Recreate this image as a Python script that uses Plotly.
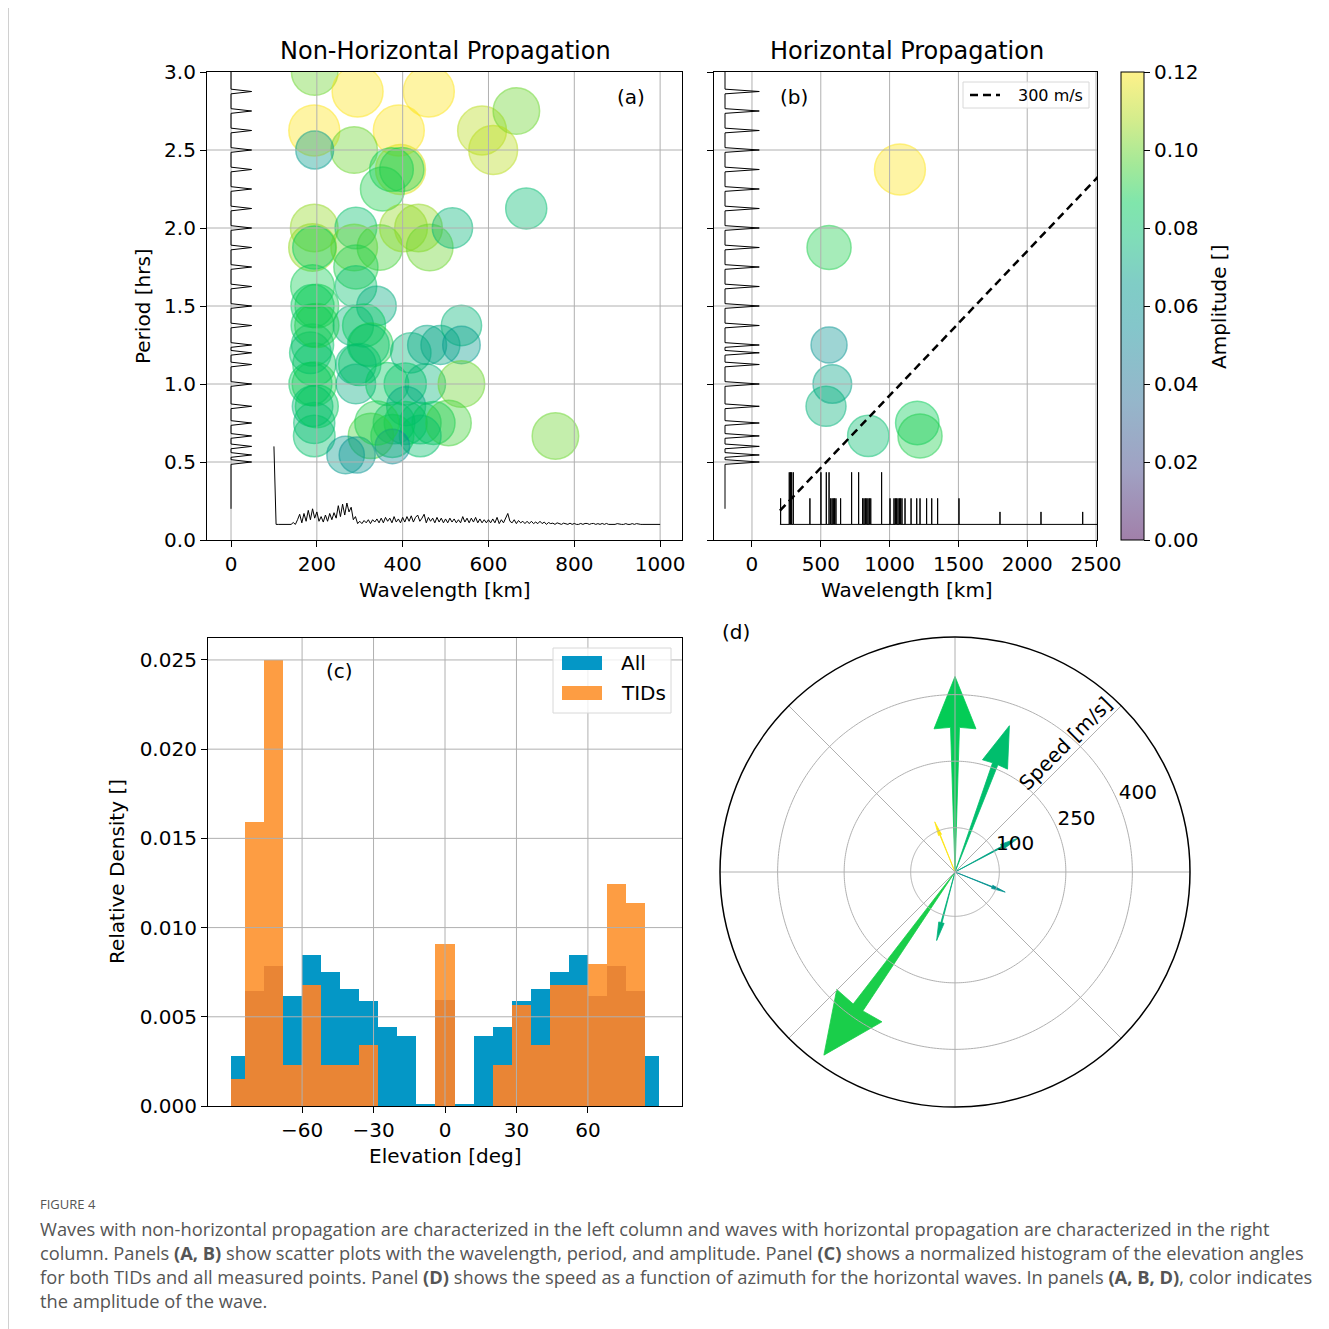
import numpy as np
import plotly.graph_objects as go
from plotly.colors import sample_colorscale

# The page body has an 8px margin: the figure is 1321 px and positions are
# given in screen pixels, converted here to paper fractions.
OFF = 8
W = H = 1321


def px(x):
    return (x - OFF) / W


def py(y):
    return 1 - (y - OFF) / H


# ---------------- DATA ----------------
# Panel (a): non-horizontal waves
nh_wavelength = [195, 295, 461, 194, 391, 585, 665, 611, 287, 195, 395, 374, 398, 353, 688,
                 194, 190, 194, 291, 287, 347, 402, 437, 463, 516, 291, 291, 339, 190, 190,
                 190, 190, 194, 194, 190, 194, 194, 285, 310, 326, 291, 291, 364, 419, 457,
                 488, 537, 537, 406, 453, 537, 408, 380, 407, 441, 472, 507, 441, 376, 326,
                 376, 267, 294, 756, 200, 185, 200, 300, 340, 320, 185, 200]
nh_period = [3.0, 2.875, 2.875, 2.625, 2.625, 2.625, 2.75, 2.5, 2.5, 2.5, 2.375, 2.375, 2.375, 2.25, 2.125,
             2.0, 1.875, 1.875, 2.0, 1.875, 1.875, 2.0, 2.0, 1.875, 2.0, 1.75, 1.625, 1.5, 1.625, 1.5,
             1.375, 1.25, 1.125, 1.0, 0.857, 0.75, 0.667, 1.375, 1.375, 1.25, 1.125, 1.0, 1.0, 1.2, 1.25,
             1.25, 1.375, 1.25, 1.0, 1.0, 1.0, 0.857, 0.75, 0.75, 0.75, 0.75, 0.75, 0.667, 0.667, 0.667,
             0.6, 0.545, 0.545, 0.667, 1.5, 1.2, 0.857, 1.125, 0.75, 1.25, 1.0, 1.375]
nh_amplitude = [0.10, 0.12, 0.12, 0.12, 0.12, 0.11, 0.10, 0.11, 0.10, 0.066, 0.115, 0.088, 0.09, 0.09, 0.078,
                0.105, 0.105, 0.086, 0.08, 0.10, 0.095, 0.105, 0.105, 0.10, 0.075, 0.09, 0.08, 0.072, 0.088, 0.085,
                0.085, 0.082, 0.085, 0.09, 0.076, 0.078, 0.08, 0.075, 0.085, 0.09, 0.075, 0.072, 0.085, 0.075, 0.07,
                0.07, 0.075, 0.065, 0.082, 0.075, 0.10, 0.07, 0.08, 0.085, 0.08, 0.085, 0.095, 0.08, 0.085, 0.095,
                0.055, 0.065, 0.06, 0.10, 0.088, 0.08, 0.085, 0.082, 0.09, 0.08, 0.085, 0.09]

# Panel (b): horizontal waves
h_wavelength = [1075, 560, 560, 584, 538, 845, 1201, 1221]
h_period = [2.375, 1.875, 1.25, 1.0, 0.857, 0.667, 0.75, 0.667]
h_amplitude = [0.12, 0.09, 0.06, 0.069, 0.074, 0.079, 0.087, 0.09]

ref_speed = 300  # m/s
ref_wavelength = [203, 2700]

# Marginal histogram of period (shared by both panels)
period_levels = [0.5, 0.545, 0.6, 0.667, 0.75, 0.857, 1.0, 1.125, 1.2, 1.25, 1.375, 1.5,
                 1.625, 1.75, 1.875, 2.0, 2.125, 2.25, 2.375, 2.5, 2.625, 2.75, 2.875]
period_counts = [1, 1, 1, 1, 1, 1, 1, 1, 1, 1, 1, 1, 1, 1, 1, 1, 1, 1, 1, 1, 1, 1, 1]

# Marginal histogram of wavelength, panel (a) (5 km bins, heights in hrs-units)
wl_marg_a_km = list(range(100, 1005, 5))
wl_marg_a_h = [0.50, 0, 0, 0, 0, 0, 0, 0, 0, 0.012,
               0, 0.03, 0.065, 0.01, 0.07, 0.02, 0.09, 0.03, 0.10, 0.04,
               0.08, 0.02, 0.05, 0.015, 0.06, 0.02, 0.07, 0.03, 0.075, 0.04,
               0.12, 0.05, 0.13, 0.06, 0.137, 0.08, 0.11, 0.03, 0.05, 0.005,
               0.02, 0.005, 0.025, 0.01, 0.03, 0.005, 0.03, 0.015, 0.035, 0.01,
               0.04, 0.01, 0.045, 0.02, 0.04, 0.01, 0.05, 0.015, 0.035, 0.01,
               0.045, 0.015, 0.05, 0.02, 0.055, 0.015, 0.045, 0.06, 0.02, 0.04,
               0.065, 0.01, 0.045, 0.02, 0.04, 0.01, 0.045, 0.015, 0.04, 0.01,
               0.035, 0.01, 0.04, 0.015, 0.035, 0.01, 0.03, 0.01, 0.05, 0.015,
               0.04, 0.01, 0.04, 0.015, 0.045, 0.01, 0.035, 0.01, 0.03, 0.01,
               0.03, 0.01, 0.035, 0.01, 0.045, 0.005, 0.03, 0.01, 0.035, 0.07,
               0.02, 0.01, 0.03, 0.005, 0.025, 0.01, 0.02, 0.005, 0.02, 0.005,
               0.02, 0.005, 0.015, 0.005, 0.02, 0.005, 0.015, 0, 0.012, 0.005,
               0.008, 0, 0.01, 0.006, 0, 0.008, 0.005, 0, 0.008, 0,
               0.006, 0, 0, 0.006, 0, 0.006, 0.006, 0, 0.005, 0.006,
               0, 0.005, 0, 0.006, 0, 0.006, 0, 0, 0, 0,
               0.005, 0, 0, 0, 0.005, 0, 0, 0.005, 0, 0.005,
               0, 0, 0, 0, 0, 0, 0, 0, 0, 0,
               0]

# Marginal of wavelength, panel (b) (sticks, heights in hrs-units)
stick_wl_b = [208, 271, 280, 288, 300, 421, 501, 540, 560, 572, 582, 591, 600, 610, 644,
              724, 775, 804, 814, 824, 834, 843, 853, 863, 942, 1003, 1032, 1042, 1051, 1061,
              1071, 1080, 1090, 1112, 1156, 1197, 1221, 1269, 1306, 1349, 1504, 1802, 2100, 2403]
stick_h_b = [0.167, 0.334, 0.334, 0.334, 0.334, 0.167, 0.334, 0.334, 0.334, 0.167, 0.167, 0.167, 0.167, 0.167, 0.167,
             0.334, 0.334, 0.167, 0.167, 0.167, 0.167, 0.167, 0.167, 0.167, 0.334, 0.167, 0.167, 0.167, 0.167, 0.167,
             0.167, 0.167, 0.167, 0.167, 0.167, 0.167, 0.167, 0.167, 0.167, 0.167, 0.167, 0.08, 0.08, 0.08]

# Panel (c): elevation histogram
elev_edges = [-90, -84, -76, -68, -60, -52, -44, -36, -28, -20, -12, -4,
              4, 12, 20, 28, 36, 44, 52, 60, 68, 76, 84, 90]
all_density = [0.0028, 0.00646, 0.00787, 0.00618, 0.00845, 0.00752, 0.00657, 0.00588, 0.00442, 0.00392, 0.0001, 0.00595,
               0.0001, 0.00392, 0.00442, 0.00588, 0.00657, 0.00752, 0.00845, 0.00618, 0.00787, 0.00646, 0.0028]
tid_density = [0.00149, 0.0159, 0.025, 0.00228, 0.00679, 0.00228, 0.00228, 0.00343, 0, 0, 0, 0.0091,
               0, 0, 0.00228, 0.00567, 0.00343, 0.00679, 0.00679, 0.00797, 0.01246, 0.01138, 0]
elev_ticks = [-60, -30, 0, 30, 60]
elev_ticktext = ['\u221260', '\u221230', '0', '30', '60']

# Panel (d): speed vs azimuth
arrow_az = [0, 20.4, 215.6, 338, 61.8, 111.8, 195]
arrow_speed = [441, 352, 508, 122, 162, 122, 160]
arrow_amp = [0.087, 0.079, 0.09, 0.12, 0.069, 0.06, 0.074]
speed_ticks = [100, 250, 400]

# ---------------- STYLE ----------------
FONT = 'DejaVu Sans'
GRID = '#b0b0b0'
stops = [0.0, 0.15, 0.3, 0.45, 0.55, 0.65, 0.72, 0.8, 0.9, 1.0]
rgbs = [(68, 1, 84), (65, 68, 135), (42, 110, 150), (10, 140, 150), (0, 155, 140),
        (0, 188, 112), (0, 204, 88), (70, 210, 50), (170, 218, 25), (253, 228, 20)]
cs_solid = [[s, 'rgb(%d,%d,%d)' % c] for s, c in zip(stops, rgbs)]
cs_bar = [[s, 'rgba(%d,%d,%d,0.5)' % c] for s, c in zip(stops, rgbs)]
cs_fill = [[s, 'rgba(%d,%d,%d,0.55)' % c] for s, c in zip(stops, rgbs)]
cs_edge = [[s, 'rgba(%d,%d,%d,0.75)' % c] for s, c in zip(stops, rgbs)]
AMAX = 0.12


def amp_color(a):
    return sample_colorscale(cs_solid, [min(max(a / AMAX, 0), 1)])[0]


def sizes(amps):
    return [147 * np.sqrt(a) for a in amps]


def grid_lines(xvals, yvals, xr, yr, xa, ya):
    xs, ys = [], []
    for v in xvals:
        xs += [v, v, None]
        ys += [yr[0], yr[1], None]
    for v in yvals:
        xs += [xr[0], xr[1], None]
        ys += [v, v, None]
    return go.Scatter(x=xs, y=ys, mode='lines', line=dict(color=GRID, width=1),
                      xaxis=xa, yaxis=ya, hoverinfo='skip', showlegend=False)


def period_marginal(base, width, xa, ya):
    d = 0.015
    xs, ys = [base], [0.2]
    for p, c in zip(period_levels, period_counts):
        xs += [base, base + width * c, base]
        ys += [p - d, p, p + d]
    xs.append(base)
    ys.append(3.2)
    return go.Scatter(x=xs, y=ys, mode='lines', line=dict(color='black', width=1),
                      xaxis=xa, yaxis=ya, hoverinfo='skip', showlegend=False)


fig = go.Figure()

XR_A = [-56, 1051]
XR_B = [-276, 2507]
YR = [0, 3]
XR_C = [-99.5, 99.5]
YR_C = [0, 0.02623]

# ----- panel (a) -----
fig.add_trace(go.Scatter(
    x=nh_wavelength, y=nh_period, mode='markers', xaxis='x', yaxis='y', showlegend=False,
    marker=dict(size=sizes(nh_amplitude), color=nh_amplitude, colorscale=cs_fill, cmin=0, cmax=AMAX,
                line=dict(color=nh_amplitude, colorscale=cs_edge, cmin=0, cmax=AMAX, width=1.5),
                showscale=False)))
fig.add_trace(grid_lines([0, 200, 400, 600, 800, 1000], [0.5, 1.0, 1.5, 2.0, 2.5], XR_A, YR, 'x', 'y'))
fig.add_trace(period_marginal(0, 48, 'x', 'y'))
fig.add_trace(go.Scatter(x=wl_marg_a_km, y=[0.1 + h for h in wl_marg_a_h], mode='lines',
                         line=dict(color='black', width=1), xaxis='x', yaxis='y',
                         hoverinfo='skip', showlegend=False))

# ----- panel (b) -----
fig.add_trace(go.Scatter(
    x=h_wavelength, y=h_period, mode='markers', xaxis='x2', yaxis='y2', showlegend=False,
    marker=dict(size=sizes(h_amplitude), color=h_amplitude, colorscale=cs_fill, cmin=0, cmax=AMAX,
                line=dict(color=h_amplitude, colorscale=cs_edge, cmin=0, cmax=AMAX, width=1.5),
                showscale=False)))
# colour bar (drawn from an invisible copy of the panel (b) amplitudes)
fig.add_trace(go.Scatter(
    x=h_wavelength, y=h_period, mode='markers', xaxis='x2', yaxis='y2', showlegend=False,
    hoverinfo='skip', visible=True, opacity=0,
    marker=dict(size=1, color=h_amplitude, colorscale=cs_bar, cmin=0, cmax=AMAX, showscale=True,
                colorbar=dict(x=px(1121), xanchor='left', xpad=0, y=py(306), yanchor='middle', ypad=0,
                              len=468, lenmode='pixels', thickness=23, thicknessmode='pixels',
                              outlinewidth=1, outlinecolor='black',
                              tickvals=[0, 0.02, 0.04, 0.06, 0.08, 0.10, 0.12], tickformat='.2f',
                              ticks='outside', ticklen=6, tickwidth=1, tickcolor='black',
                              tickfont=dict(size=20, family=FONT, color='black')))))
fig.add_trace(grid_lines([0, 500, 1000, 1500, 2000, 2500], [0.5, 1.0, 1.5, 2.0, 2.5], XR_B, YR, 'x2', 'y2'))
fig.add_trace(period_marginal(-196, 249, 'x2', 'y2'))
sx, sy = [ref_wavelength[0]], [0.1]
for w, h in zip(stick_wl_b, stick_h_b):
    sx += [w, w, w]
    sy += [0.1, 0.1 + h, 0.1]
sx.append(ref_wavelength[1])
sy.append(0.1)
fig.add_trace(go.Scatter(x=sx, y=sy, mode='lines', line=dict(color='black', width=1),
                         xaxis='x2', yaxis='y2', hoverinfo='skip', showlegend=False))
fig.add_trace(go.Scatter(x=ref_wavelength, y=[w * 1000 / ref_speed / 3600 for w in ref_wavelength],
                         mode='lines', line=dict(color='black', width=2.5, dash='8px,5px'),
                         xaxis='x2', yaxis='y2', hoverinfo='skip', showlegend=False))

# ----- panel (c) -----
centers = [(a + b) / 2 for a, b in zip(elev_edges[:-1], elev_edges[1:])]
widths = [b - a for a, b in zip(elev_edges[:-1], elev_edges[1:])]
overlap = [min(a, t) for a, t in zip(all_density, tid_density)]
fig.add_trace(go.Bar(x=centers, y=all_density, width=widths, marker=dict(color='#0497C6', line=dict(width=0)),
                     xaxis='x3', yaxis='y3', showlegend=False))
fig.add_trace(go.Bar(x=centers, y=tid_density, width=widths, marker=dict(color='#FD9D43', line=dict(width=0)),
                     xaxis='x3', yaxis='y3', showlegend=False))
fig.add_trace(go.Bar(x=centers, y=overlap, width=widths, marker=dict(color='#E98535', line=dict(width=0)),
                     xaxis='x3', yaxis='y3', showlegend=False))
fig.add_trace(grid_lines(elev_ticks, [0.005, 0.010, 0.015, 0.020, 0.025], XR_C, YR_C, 'x3', 'y3'))

# ----- panel (d) -----
RMAX = 530
for az, sp, am in zip(arrow_az, arrow_speed, arrow_amp):
    ws = np.degrees(0.5 * 1.4e-4 * sp)
    wh = np.degrees(0.5 * 6.6e-4 * sp)
    hl = 0.26 * sp
    rb = sp - hl
    col = amp_color(am)
    fig.add_trace(go.Scatterpolar(
        r=[0, rb, rb, sp, rb, rb, 0],
        theta=[az, az - ws, az - wh, az, az + wh, az + ws, az],
        mode='lines', fill='toself', fillcolor=col, line=dict(color=col, width=0.8),
        hoverinfo='skip', showlegend=False, subplot='polar'))
# polar grid drawn over the arrows
circ_t = list(np.linspace(0, 360, 361))
for rv in speed_ticks:
    fig.add_trace(go.Scatterpolar(r=[rv] * len(circ_t), theta=circ_t, mode='lines',
                                  line=dict(color=GRID, width=1), hoverinfo='skip',
                                  showlegend=False, subplot='polar'))
for ang in range(0, 360, 45):
    fig.add_trace(go.Scatterpolar(r=[0, RMAX], theta=[ang, ang], mode='lines',
                                  line=dict(color=GRID, width=1), hoverinfo='skip',
                                  showlegend=False, subplot='polar'))
fig.add_trace(go.Scatterpolar(r=speed_ticks, theta=[67.5] * len(speed_ticks), mode='text',
                              text=[str(v) for v in speed_ticks], textposition='top right',
                              textfont=dict(size=20, family=FONT, color='black'),
                              hoverinfo='skip', showlegend=False, subplot='polar'))

# ---------------- LAYOUT ----------------
axis_common = dict(showgrid=False, zeroline=False, showline=True, mirror=True, linecolor='black',
                   linewidth=1.2, ticks='outside', ticklen=6, tickwidth=1.2, tickcolor='black',
                   tickfont=dict(size=20, family=FONT, color='black'))

fig.update_layout(
    width=W, height=H, margin=dict(l=0, r=0, t=0, b=0, autoexpand=False),
    paper_bgcolor='white', plot_bgcolor='white', font=dict(family=FONT, color='black'),
    barmode='overlay', bargap=0,
    xaxis=dict(domain=[px(207), px(682)], range=XR_A, anchor='y',
               tickvals=[0, 200, 400, 600, 800, 1000], **axis_common),
    yaxis=dict(domain=[py(540), py(72)], range=YR, anchor='x',
               tickvals=[0, 0.5, 1.0, 1.5, 2.0, 2.5, 3.0], tickformat='.1f', **axis_common),
    xaxis2=dict(domain=[px(714), px(1097)], range=XR_B, anchor='y2',
                tickvals=[0, 500, 1000, 1500, 2000, 2500], **axis_common),
    yaxis2=dict(domain=[py(540), py(72)], range=YR, anchor='x2',
                tickvals=[0, 0.5, 1.0, 1.5, 2.0, 2.5, 3.0], showticklabels=False, **axis_common),
    xaxis3=dict(domain=[px(208), px(682)], range=XR_C, anchor='y3',
                tickvals=elev_ticks, ticktext=elev_ticktext, **axis_common),
    yaxis3=dict(domain=[py(1106), py(638)], range=YR_C, anchor='x3',
                tickvals=[0, 0.005, 0.010, 0.015, 0.020, 0.025], tickformat='.3f', **axis_common),
    polar=dict(
        domain=dict(x=[px(720), px(1190)], y=[py(1107), py(637)]),
        bgcolor='white',
        angularaxis=dict(rotation=90, direction='clockwise', showgrid=False, showticklabels=False,
                         ticks='', showline=True, linecolor='black', linewidth=1.5),
        radialaxis=dict(range=[0, RMAX], showgrid=False, showticklabels=False, ticks='',
                        showline=False),
    ),
)

ann = []


def text(x, y, s, size=20, angle=0, xanchor='center', color='black', family=FONT):
    ann.append(dict(x=px(x), y=py(y), xref='paper', yref='paper', text=s, showarrow=False,
                    textangle=angle, xanchor=xanchor, yanchor='middle',
                    font=dict(size=size, family=family, color=color)))


text(445, 51, 'Non-Horizontal Propagation', 24)
text(907, 51, 'Horizontal Propagation', 24)
text(143, 306, 'Period [hrs]', 20, -90)
text(445, 590, 'Wavelength [km]')
text(907, 590, 'Wavelength [km]')
text(1219, 307, 'Amplitude []', 20, -90)
text(117, 872, 'Relative Density []', 20, -90)
text(445, 1156, 'Elevation [deg]')
text(631, 97, '(a)')
text(794, 97, '(b)')
text(339, 671, '(c)')
text(736, 632, '(d)')
text(1065, 744, 'Speed [m/s]', 20, -45)
# legends
text(619, 663, 'All', 20, xanchor='left')
text(619, 693, 'TIDs', 20, xanchor='left')
text(1016, 95, '300 m/s', 16, xanchor='left')

# caption
CAP = 'Open Sans'
text(38, 1204, 'FIGURE 4', 13, xanchor='left', color='#555555', family=CAP)
cap_lines = [
    'Waves with non-horizontal propagation are characterized in the left column and waves with horizontal propagation are characterized in the right',
    'column. Panels <b>(A, B)</b> show scatter plots with the wavelength, period, and amplitude. Panel <b>(C)</b> shows a normalized histogram of the elevation angles',
    'for both TIDs and all measured points. Panel <b>(D)</b> shows the speed as a function of azimuth for the horizontal waves. In panels <b>(A, B, D)</b>, color indicates',
    'the amplitude of the wave.',
]
for i, line in enumerate(cap_lines):
    text(38, 1228 + 24 * i, line, 18.3, xanchor='left', color='#555555', family=CAP)

fig.update_layout(annotations=ann)

shapes = [
    # page frame
    dict(type='line', xref='paper', yref='paper', x0=px(8.5), x1=1, y0=py(7.5), y1=py(7.5),
         line=dict(color='#d0d0d0', width=1)),
    dict(type='line', xref='paper', yref='paper', x0=px(8.5), x1=px(8.5), y0=py(7.5), y1=0,
         line=dict(color='#d0d0d0', width=1)),
    # legend (c)
    dict(type='rect', xref='paper', yref='paper', x0=px(553), x1=px(671), y0=py(713), y1=py(648),
         fillcolor='rgba(255,255,255,0.8)', line=dict(color='#d8d8d8', width=1), layer='above'),
    dict(type='rect', xref='paper', yref='paper', x0=px(562), x1=px(602), y0=py(670), y1=py(656),
         fillcolor='#0497C6', line=dict(width=0), layer='above'),
    dict(type='rect', xref='paper', yref='paper', x0=px(562), x1=px(602), y0=py(700), y1=py(686),
         fillcolor='#FD9D43', line=dict(width=0), layer='above'),
    # legend (b)
    dict(type='rect', xref='paper', yref='paper', x0=px(963), x1=px(1089), y0=py(108), y1=py(82),
         fillcolor='rgba(255,255,255,0.8)', line=dict(color='#d8d8d8', width=1), layer='above'),
    dict(type='line', xref='paper', yref='paper', x0=px(970), x1=px(1000), y0=py(95), y1=py(95),
         line=dict(color='black', width=2.5, dash='8px,5px'), layer='above'),
]
fig.update_layout(shapes=shapes)

fig.write_html('out.html')
